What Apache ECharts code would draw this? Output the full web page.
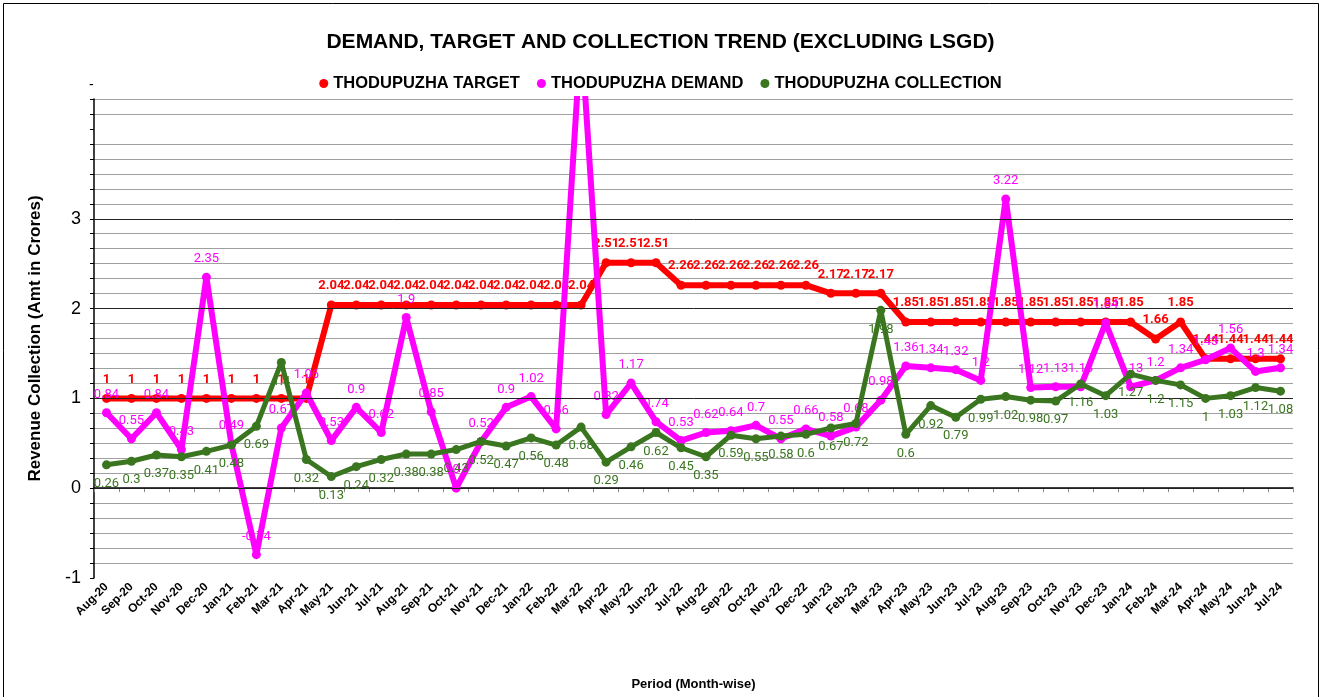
<!DOCTYPE html>
<html>
<head>
<meta charset="utf-8">
<script src="https://cdn.jsdelivr.net/npm/echarts@6/dist/echarts.min.js"></script>
<style>
html,body{margin:0;padding:0;background:#fff;}
#chart{width:1321px;height:697px;}
</style>
</head>
<body>
<div id="chart"></div>
<script>
const categories = ['Aug-20','Sep-20','Oct-20','Nov-20','Dec-20','Jan-21','Feb-21','Mar-21','Apr-21','May-21','Jun-21','Jul-21',
  'Aug-21','Sep-21','Oct-21','Nov-21','Dec-21','Jan-22','Feb-22','Mar-22','Apr-22','May-22','Jun-22','Jul-22',
  'Aug-22','Sep-22','Oct-22','Nov-22','Dec-22','Jan-23','Feb-23','Mar-23','Apr-23','May-23','Jun-23','Jul-23',
  'Aug-23','Sep-23','Oct-23','Nov-23','Dec-23','Jan-24','Feb-24','Mar-24','Apr-24','May-24','Jun-24','Jul-24'];

const targetValues = [1,1,1,1,1,1,1,1,1,
  2.04,2.04,2.04,2.04,2.04,2.04,2.04,2.04,2.04,2.04,2.04,
  2.51,2.51,2.51,
  2.26,2.26,2.26,2.26,2.26,2.26,
  2.17,2.17,2.17,
  1.85,1.85,1.85,1.85,1.85,1.85,1.85,1.85,1.85,1.85,
  1.66,1.85,1.44,1.44,1.44,1.44];

const demandValues = [0.84,0.55,0.84,0.43,2.35,0.49,-0.74,0.67,1.06,0.53,0.9,0.62,
  1.9,0.85,0,0.52,0.9,1.02,0.66,5.07,0.82,1.17,0.74,0.53,
  0.62,0.64,0.7,0.55,0.66,0.58,0.68,0.98,1.36,1.34,1.32,1.2,
  3.22,1.12,1.13,1.13,1.84,1.13,1.2,1.34,1.43,1.56,1.3,1.34];

const collectionValues = [0.26,0.3,0.37,0.35,0.41,0.48,0.69,1.4,0.32,0.13,0.24,0.32,
  0.38,0.38,0.43,0.52,0.47,0.56,0.48,0.68,0.29,0.46,0.62,0.45,
  0.35,0.59,0.55,0.58,0.6,0.67,0.72,1.98,0.6,0.92,0.79,0.99,
  1.02,0.98,0.97,1.16,1.03,1.27,1.2,1.15,1,1.03,1.12,1.08];

const yMajorLines = [0,1,2,3];
const yLabels = ['-1','0','1','2','3'];

const chart = echarts.init(document.getElementById('chart'));
const FONT = 'Liberation Sans';
const LFONT = 'Roboto';
const GREEN = '#3a761f';

const option = {
  animation: false,
  backgroundColor: '#fff',
  title: {
    text: 'DEMAND, TARGET AND COLLECTION TREND (EXCLUDING LSGD)',
    left: 'center', top: 27,
    textStyle: {fontFamily: FONT, fontWeight: 'bold', fontSize: 21, color: '#000'}
  },
  legend: {
    data: ['THODUPUZHA TARGET','THODUPUZHA DEMAND','THODUPUZHA COLLECTION'],
    top: 70, left: 'center', icon: 'circle', itemWidth: 9, itemHeight: 9, itemGap: 17,
    textStyle: {fontFamily: FONT, fontWeight: 'bold', fontSize: 16.5, color: '#000'}
  },
  graphic: [
    {type: 'rect', shape: {x: 3.5, y: 3.5, width: 1315, height: 700}, style: {fill: 'none', stroke: '#000', lineWidth: 1}, silent: true},
    {type: 'text', left: 89, top: 78, style: {text: '-', fontFamily: FONT, fontSize: 14, fill: '#000'}}
  ],
  grid: {left: 94, right: 28, top: 99, bottom: 119, containLabel: false},
  xAxis: {
    type: 'category', data: categories, boundaryGap: true,
    name: 'Period (Month-wise)', nameLocation: 'middle', nameGap: 100,
    nameTextStyle: {fontFamily: FONT, fontWeight: 'bold', fontSize: 13, color: '#000'},
    axisLine: {lineStyle: {color: '#000', width: 1.5}},
    axisTick: {show: true, length: 4, lineStyle: {color: '#888'}},
    axisLabel: {interval: 0, rotate: 45, fontFamily: FONT, fontWeight: 'bold', fontSize: 12, color: '#000', margin: 7},
    splitLine: {show: false}
  },
  yAxis: {
    type: 'value', min: -1, max: 26/6, interval: 1/6,
    name: 'Revenue Collection (Amt in Crores)', nameLocation: 'middle', nameGap: 50,
    nameTextStyle: {fontFamily: FONT, fontWeight: 'bold', fontSize: 17, color: '#000'},
    axisLine: {show: true, lineStyle: {color: '#000', width: 1.5}},
    axisTick: {show: true, length: 4, lineStyle: {color: '#000'}},
    axisLabel: {
      fontFamily: FONT, fontSize: 18, color: '#000', margin: 13,
      formatter: function (v) {
        const r = Math.round(v);
        if (Math.abs(v - r) < 1e-6 && yLabels.indexOf(String(r)) >= 0) return String(r);
        return '';
      }
    },
    splitLine: {show: true, lineStyle: {color: ['transparent','#a0a0a0','#a0a0a0','#a0a0a0','#a0a0a0','#a0a0a0'], width: 1.2}}
  },
  series: [
    {
      name: 'grid-major', type: 'line', data: [], z: 1, silent: true,
      markLine: {
        silent: true, symbol: 'none', animation: false,
        label: {show: false},
        lineStyle: {color: '#222', width: 1, type: 'solid'},
        data: yMajorLines.map(v => ({yAxis: v}))
      }
    },
    {
      name: 'THODUPUZHA TARGET', type: 'line', data: targetValues, z: 3,
      color: '#ff0000', symbol: 'circle', symbolSize: 9,
      lineStyle: {width: 6, color: '#ff0000'},
      label: {show: true, position: 'top', distance: 8, fontFamily: LFONT, fontWeight: 'bold', fontSize: 13, color: '#ff0000'}
    },
    {
      name: 'THODUPUZHA DEMAND', type: 'line', data: demandValues, z: 4,
      color: '#ff00ff', symbol: 'circle', symbolSize: 9,
      lineStyle: {width: 6, color: '#ff00ff'},
      label: {show: true, position: 'top', distance: 7, fontFamily: LFONT, fontSize: 13, color: '#ff00ff'}
    },
    {
      name: 'THODUPUZHA COLLECTION', type: 'line', data: collectionValues, z: 5,
      color: GREEN, symbol: 'circle', symbolSize: 9,
      lineStyle: {width: 5, color: GREEN},
      label: {show: true, position: 'bottom', distance: 8, fontFamily: LFONT, fontSize: 13, color: GREEN}
    }
  ]
};
chart.setOption(option);
</script>
</body>
</html>
